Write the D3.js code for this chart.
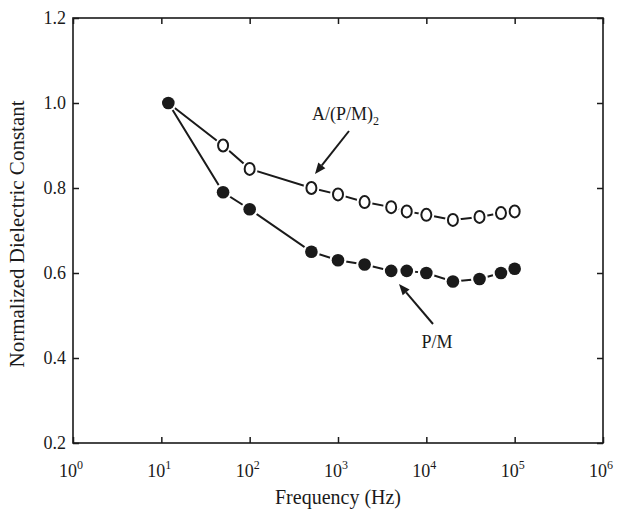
<!DOCTYPE html>
<html>
<head>
<meta charset="utf-8">
<script src="https://cdn.jsdelivr.net/npm/d3@7"></script>
<style>
  html, body { margin: 0; padding: 0; background: #fff; }
  svg { display: block; font-family: "Liberation Serif", "Times New Roman", serif; }
</style>
</head>
<body>
<svg id="chart" width="619" height="515"></svg>
<script>
// ---- data ----
const frequencies = [12, 50, 100, 500, 1000, 2000, 4000, 6000, 10000, 20000, 40000, 70000, 100000];
const pmValues    = [1.0, 0.79, 0.75, 0.65, 0.63, 0.62, 0.605, 0.605, 0.60, 0.58, 0.586, 0.60, 0.61];
const ratioFreqs  = [12, 50, 100, 500, 1000, 2000, 4000, 6000, 10000, 20000, 40000, 70000, 100000];
const ratioValues = [1.0, 0.90, 0.845, 0.80, 0.785, 0.767, 0.755, 0.745, 0.737, 0.725, 0.732, 0.741, 0.745];
const xTickExponents = [0, 1, 2, 3, 4, 5, 6];
const yTicks = [0.2, 0.4, 0.6, 0.8, 1.0, 1.2];
const ratioLabel = "A/(P/M)";
const ratioSub = "2";
const pmLabel = "P/M";
const xTitle = "Frequency (Hz)";
const yTitle = "Normalized Dielectric Constant";

(function () {
// ---- layout ----
const svg = d3.select("#chart");
const mLeft = 73, mRight = 603, mTop = 18, mBottom = 443;
const x = d3.scaleLog().domain([1, 1e6]).range([mLeft, mRight]);
const y = d3.scaleLinear().domain([0.2, 1.2]).range([mBottom, mTop]);
const ink = "#1a1a1a";

// frame
svg.append("rect").attr("x", mLeft).attr("y", mTop)
  .attr("width", mRight - mLeft).attr("height", mBottom - mTop)
  .attr("fill", "none").attr("stroke", ink).attr("stroke-width", 1.6);

const xTickVals = xTickExponents.map(e => Math.pow(10, e));
const xAxisB = d3.axisBottom(x).tickValues(xTickVals).tickSize(-6).tickFormat("");
const xAxisT = d3.axisTop(x).tickValues(xTickVals).tickSize(-6).tickFormat("");
const yAxisL = d3.axisLeft(y).tickValues(yTicks).tickSize(-6).tickFormat("");
const yAxisR = d3.axisRight(y).tickValues(yTicks).tickSize(-6).tickFormat("");
function styleAxis(g) {
  g.select(".domain").remove();
  g.selectAll(".tick line").attr("stroke", ink).attr("stroke-width", 1.5);
}
svg.append("g").attr("transform", `translate(0,${mBottom})`).call(xAxisB).call(styleAxis);
svg.append("g").attr("transform", `translate(0,${mTop})`).call(xAxisT).call(styleAxis);
svg.append("g").attr("transform", `translate(${mLeft},0)`).call(yAxisL).call(styleAxis);
svg.append("g").attr("transform", `translate(${mRight},0)`).call(yAxisR).call(styleAxis);

// y tick labels
svg.append("g").selectAll("text").data(yTicks).join("text")
  .attr("x", mLeft - 7).attr("y", d => y(d))
  .attr("dy", "0.35em").attr("text-anchor", "end")
  .attr("font-size", 18).attr("fill", ink)
  .text(d => d.toFixed(1));

// x tick labels 10^n
const xl = svg.append("g").selectAll("text").data(xTickExponents).join("text")
  .attr("x", d => x(Math.pow(10, d)) - 2).attr("y", 477)
  .attr("text-anchor", "middle").attr("font-size", 18).attr("fill", ink);
xl.append("tspan").text("10");
xl.append("tspan").attr("dy", -8).attr("font-size", 12).text(d => d);

// axis titles
svg.append("text").attr("x", (mLeft + mRight) / 2).attr("y", 504)
  .attr("text-anchor", "middle").attr("font-size", 20).attr("fill", ink).text(xTitle);
svg.append("text").attr("transform", `translate(24,${234}) rotate(-90)`)
  .attr("text-anchor", "middle").attr("font-size", 21).attr("fill", ink).text(yTitle);

// lines
const line = d3.line().x(d => x(d[0])).y(d => y(d[1]));
const ratioData = ratioFreqs.map((f, i) => [f, ratioValues[i]]);
const pmData = frequencies.map((f, i) => [f, pmValues[i]]);
svg.append("path").datum(ratioData).attr("d", line)
  .attr("fill", "none").attr("stroke", ink).attr("stroke-width", 2);
svg.append("path").datum(pmData).attr("d", line)
  .attr("fill", "none").attr("stroke", ink).attr("stroke-width", 2);

// white halos to leave small gaps between lines and markers
svg.append("g").selectAll("ellipse").data(ratioData.slice(1)).join("ellipse")
  .attr("cx", d => x(d[0])).attr("cy", d => y(d[1]))
  .attr("rx", 8).attr("ry", 8.5).attr("fill", "#fff");
svg.append("g").selectAll("circle").data(pmData).join("circle")
  .attr("cx", d => x(d[0])).attr("cy", d => y(d[1]))
  .attr("r", 8.5).attr("fill", "#fff");

// open markers (skip shared first point)
svg.append("g").selectAll("ellipse").data(ratioData.slice(1)).join("ellipse")
  .attr("cx", d => x(d[0])).attr("cy", d => y(d[1]))
  .attr("rx", 5).attr("ry", 6)
  .attr("fill", "#fff").attr("stroke", ink).attr("stroke-width", 2);
// filled markers
svg.append("g").selectAll("circle").data(pmData).join("circle")
  .attr("cx", d => x(d[0])).attr("cy", d => y(d[1]))
  .attr("r", 6.3).attr("fill", ink);

// annotations with arrows
function arrow(x1, y1, x2, y2) {
  const ang = Math.atan2(y2 - y1, x2 - x1);
  const L = 11, W = 4.5;
  const bx = x2 - L * Math.cos(ang), by = y2 - L * Math.sin(ang);
  svg.append("line").attr("x1", x1).attr("y1", y1).attr("x2", bx).attr("y2", by)
    .attr("stroke", ink).attr("stroke-width", 2);
  const p = [[x2, y2],
    [bx + W * Math.sin(ang), by - W * Math.cos(ang)],
    [bx - W * Math.sin(ang), by + W * Math.cos(ang)]];
  svg.append("path").attr("d", "M" + p.map(q => q.join(",")).join("L") + "Z").attr("fill", ink);
}
const t1 = svg.append("text").attr("x", 312).attr("y", 120)
  .attr("font-size", 18).attr("fill", ink);
t1.append("tspan").text(ratioLabel);
t1.append("tspan").attr("dy", 5).attr("font-size", 12).text(ratioSub);
arrow(349, 131, 315, 174);

svg.append("text").attr("x", 437).attr("y", 348).attr("text-anchor", "middle")
  .attr("font-size", 18).attr("fill", ink).text(pmLabel);
arrow(433, 324, 399, 284);
})();
</script>
</body>
</html>
